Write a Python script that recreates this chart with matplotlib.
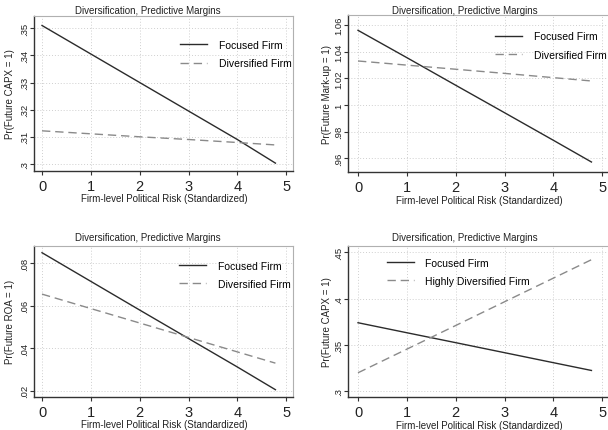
import matplotlib
matplotlib.use("Agg")
import matplotlib.pyplot as plt

plt.rcParams["font.family"] = ["Liberation Sans", "DejaVu Sans"]

# x grid the margins were evaluated at
risk = [0, 1, 2, 3, 4, 4.78]

# panel 1: future CAPX
capx_focused = [0.3510, 0.3405, 0.3300, 0.3195, 0.3090, 0.3003]
capx_diversified = [0.3122, 0.3111, 0.3100, 0.3090, 0.3079, 0.3070]

# panel 2: future mark-up
markup_focused = [1.056, 1.0355, 1.0148, 0.9942, 0.9735, 0.9572]
markup_diversified = [1.033, 1.0299, 1.0268, 1.0237, 1.0205, 1.018]

# panel 3: future ROA
roa_focused = [0.085, 0.0715, 0.058, 0.0446, 0.0312, 0.0205]
roa_diversified = [0.0655, 0.0587, 0.0519, 0.0451, 0.0383, 0.033]

# panel 4: future CAPX, highly diversified
capx2_focused = [0.374, 0.3632, 0.3525, 0.3417, 0.3309, 0.3225]
capx2_highly = [0.320, 0.3455, 0.371, 0.3966, 0.4221, 0.442]

panels = [
    dict(box=(34, 293, 17, 172), xlim=(-0.164, 5.14), ylim=(0.2974, 0.3545),
         yticks=[0.30, 0.31, 0.32, 0.33, 0.34, 0.35],
         ylabels=[".3", ".31", ".32", ".33", ".34", ".35"],
         ytitle="Pr(Future CAPX = 1)", focused=capx_focused,
         other=capx_diversified, other_name="Diversified Firm",
         leg=(0.564, 0.845), title_xy=(148, 11), xlab_xy=(164, 199), ytitle_x=10),
    dict(box=(348, 610, 16, 173), xlim=(-0.205, 5.16), ylim=(0.9497, 1.0675),
         yticks=[0.96, 0.98, 1.0, 1.02, 1.04, 1.06],
         ylabels=[".96", ".98", "1", "1.02", "1.04", "1.06"],
         ytitle="Pr(Future Mark-up = 1)", focused=markup_focused,
         other=markup_diversified, other_name="Diversified Firm",
         leg=(0.561, 0.895), title_xy=(465, 11), xlab_xy=(479, 201), ytitle_x=327),
    dict(box=(34, 293, 246.7, 397.7), xlim=(-0.164, 5.14), ylim=(0.0172, 0.0883),
         yticks=[0.02, 0.04, 0.06, 0.08],
         ylabels=[".02", ".04", ".06", ".08"],
         ytitle="Pr(Future ROA = 1)", focused=roa_focused,
         other=roa_diversified, other_name="Diversified Firm",
         leg=(0.56, 0.90), title_xy=(148, 238), xlab_xy=(164, 425), ytitle_x=10),
    dict(box=(348, 610, 246.7, 397.7), xlim=(-0.205, 5.16), ylim=(0.2942, 0.4571),
         yticks=[0.30, 0.35, 0.40, 0.45],
         ylabels=[".3", ".35", ".4", ".45"],
         ytitle="Pr(Future CAPX = 1)", focused=capx2_focused,
         other=capx2_highly, other_name="Highly Diversified Firm",
         leg=(0.148, 0.92), title_xy=(465, 238), xlab_xy=(479, 426), ytitle_x=327),
]

W, H = 608, 431
fig = plt.figure(figsize=(W / 100, H / 100), dpi=100)
fig.patch.set_facecolor("white")

for p in panels:
    l, r, t, b = p["box"]
    ax = fig.add_axes([l / W, 1 - b / H, (r - l) / W, (b - t) / H])

    ax.plot(risk, p["focused"], color="#2b2b2b", lw=1.0, label="Focused Firm")
    ax.plot(risk, p["other"], color="#8a8a8a", lw=1.0, dashes=(6, 3.5),
            label=p["other_name"])

    ax.set_xlim(*p["xlim"])
    ax.set_ylim(*p["ylim"])
    ax.set_xticks([0, 1, 2, 3, 4, 5])
    ax.set_xticklabels(["0", "1", "2", "3", "4", "5"], fontsize=10.5)
    ax.set_yticks(p["yticks"])
    ax.set_yticklabels(p["ylabels"], fontsize=6.8, rotation=90, va="center")
    ax.tick_params(axis="both", direction="out", length=2.6, width=0.8,
                   color="#333333", labelcolor="#222222")
    ax.tick_params(axis="x", pad=3.5)
    ax.tick_params(axis="y", pad=1)
    ax.grid(True, color="#cfcfcf", linestyle=(0, (1, 2)), lw=0.7)

    for side in ("left", "bottom"):
        ax.spines[side].set_color("#333333")
        ax.spines[side].set_linewidth(1.0)
    for side in ("top", "right"):
        ax.spines[side].set_color("#b0b0b0")
        ax.spines[side].set_linewidth(0.8)

    ax.legend(loc="upper left", bbox_to_anchor=p["leg"], frameon=False,
              fontsize=7.5, handlelength=2.6, handletextpad=1.1,
              labelspacing=0.8, borderpad=0, borderaxespad=0)

    tx, ty = p["title_xy"]
    fig.text(tx / W, 1 - ty / H, "Diversification, Predictive Margins",
             ha="center", va="center", fontsize=7, color="#222222")
    xx, xy = p["xlab_xy"]
    fig.text(xx / W, 1 - xy / H, "Firm-level Political Risk (Standardized)",
             ha="center", va="center", fontsize=7, color="#222222")
    fig.text(p["ytitle_x"] / W, 1 - ((t + b) / 2) / H, p["ytitle"],
             ha="center", va="center", rotation=90, fontsize=7, color="#222222")

fig.savefig("out.png", dpi=100)
